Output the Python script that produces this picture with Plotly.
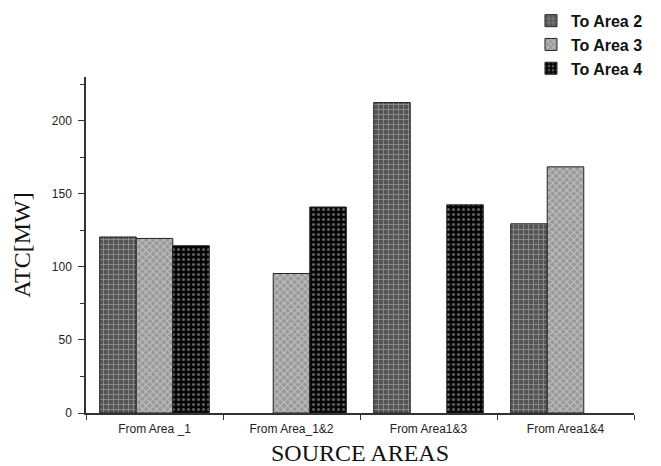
import plotly.graph_objects as go

categories = ["From Area _1", "From Area_1&2", "From Area1&3", "From Area1&4"]
series_names = ["To Area 2", "To Area 3", "To Area 4"]
to_area2 = [120.5, None, 212.5, 129.5]
to_area3 = [119.5, 95.5, None, 168.5]
to_area4 = [114.5, 141.0, 142.5, None]

styles = [
    dict(bg="#555555", fg="#d0d0d0", shape="+", size=5, sol=0.3),
    dict(bg="#999999", fg="#f4f4f4", shape="x", size=5, sol=0.35),
    dict(bg="#050505", fg="#b5b5b5", shape=".", size=5, sol=0.3),
]

fig = go.Figure()
for name, vals, st in zip(series_names, [to_area2, to_area3, to_area4], styles):
    fig.add_trace(go.Bar(
        x=categories, y=vals, name=name,
        marker=dict(
            color=st["bg"],
            line=dict(color="#222222", width=1),
            pattern=dict(shape=st["shape"], fgcolor=st["fg"], bgcolor=st["bg"],
                         size=st["size"], solidity=st["sol"], fillmode="overlay"),
        ),
    ))

fig.update_layout(
    width=661, height=466,
    margin=dict(l=86, r=27, t=77, b=53, autoexpand=False),
    paper_bgcolor="white", plot_bgcolor="white",
    barmode="group", bargap=0.2, bargroupgap=0.0,
    font=dict(family="Arial, Liberation Sans, sans-serif", color="#111111"),
    legend=dict(
        x=0.812, y=1.218, xanchor="left", yanchor="top",
        font=dict(family="Arial, Liberation Sans, sans-serif", size=16, color="#111", weight="bold"),
        tracegroupgap=3, bgcolor="rgba(0,0,0,0)",
    ),
    xaxis=dict(
        type="category", tickson="boundaries", automargin=False,
        showline=True, linecolor="#333", linewidth=1.5,
        ticks="outside", ticklen=5, tickcolor="#333", ticklabelstandoff=4,
        tickfont=dict(size=12, family="Arial, Liberation Sans, sans-serif", color="#222"),
        title=dict(text="SOURCE AREAS", font=dict(family="Liberation Serif, Times New Roman, serif", size=24, color="#111"), standoff=11),
        showgrid=False, zeroline=False,
    ),
    yaxis=dict(
        range=[0, 230], tickvals=[0, 50, 100, 150, 200], automargin=False,
        showline=True, linecolor="#333", linewidth=1.5,
        ticks="outside", ticklen=6, tickcolor="#333", ticklabelstandoff=4,
        minor=dict(tickvals=[25, 75, 125, 175, 225], ticks="outside", ticklen=4, tickcolor="#333"),
        tickfont=dict(size=12, family="Arial, Liberation Sans, sans-serif", color="#222"),
        title=dict(text="ATC[MW]", font=dict(family="Liberation Serif, Times New Roman, serif", size=24, color="#111"), standoff=14),
        showgrid=False, zeroline=False,
    ),
)

fig.write_html(
    "out.html",
    config={"displayModeBar": False},
    post_script="document.body.style.margin='0';document.body.style.padding='0';document.body.style.overflow='hidden';",
)
